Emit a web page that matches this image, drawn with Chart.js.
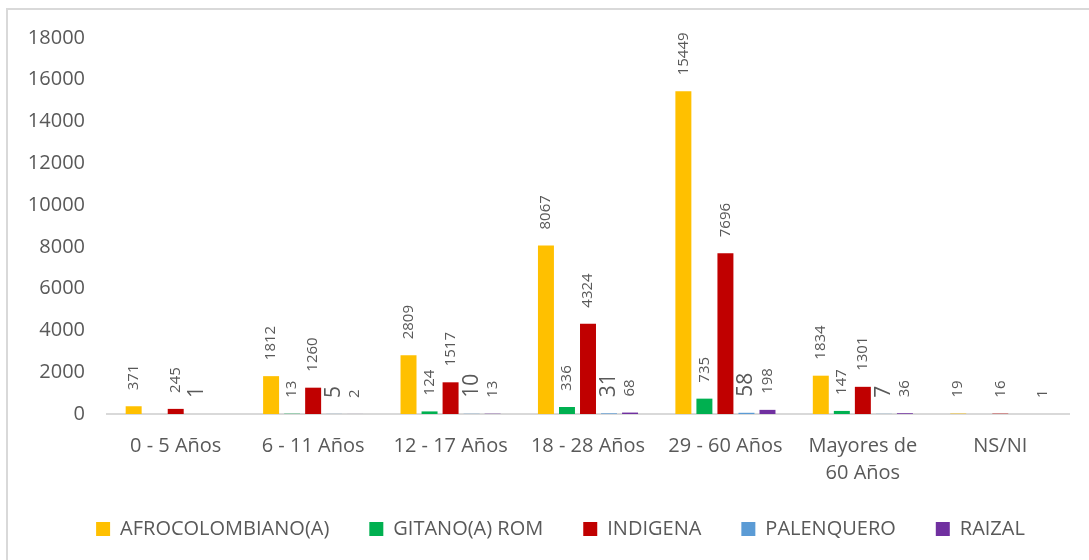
<!DOCTYPE html>
<html>
<head>
<meta charset="utf-8">
<script src="https://cdn.jsdelivr.net/npm/chart.js@4"></script>
<style>
  html, body { margin: 0; padding: 0; background: #fff; }
  #wrap { position: relative; width: 1089px; height: 560px; }
  #frame { position: absolute; left: 6px; top: 8px; width: 1090px; height: 560px;
           border-left: 2px solid #d9d9d9; border-top: 2px solid #d9d9d9; box-sizing: border-box; }
</style>
</head>
<body>
<div id="wrap">
  <div id="frame"></div>
  <canvas id="chart" width="1089" height="560"></canvas>
</div>
<script>
const categories = ['0 - 5 Años', '6 - 11 Años', '12 - 17 Años', '18 - 28 Años', '29 - 60 Años', ['Mayores de', '60 Años'], 'NS/NI'];

const afro = [371, 1812, 2809, 8067, 15449, 1834, 19];
const gitano = [null, 13, 124, 336, 735, 147, null];
const indigena = [245, 1260, 1517, 4324, 7696, 1301, 16];
const palenquero = [1, 5, 10, 31, 58, 7, null];
const raizal = [null, 2, 13, 68, 198, 36, 1];

const textColor = '#595959';
const fontFamily = "'Open Sans', sans-serif";

// rotated value labels above each bar
const barLabels = {
    id: 'barLabels',
    afterDatasetsDraw(chart) {
        const ctx = chart.ctx;
        chart.data.datasets.forEach((ds, i) => {
            const meta = chart.getDatasetMeta(i);
            meta.data.forEach((bar, j) => {
                const v = ds.data[j];
                if (v === null || v === undefined) return;
                ctx.save();
                ctx.translate(bar.x, bar.y - 16);
                ctx.rotate(-Math.PI / 2);
                ctx.font = (ds.labelSize || 15) + 'px ' + fontFamily;
                ctx.fillStyle = textColor;
                ctx.textAlign = 'left';
                ctx.textBaseline = 'middle';
                ctx.fillText(String(v), 0, 0);
                ctx.restore();
            });
        });
    }
};

// the legend sits a little right of centre and a bit higher in the original
const legendShift = {
    id: 'legendShift',
    afterLayout(chart) {
        chart.legend.left += 26;
        chart.legend.right += 26;
        chart.legend.top -= 9;
        chart.legend.bottom -= 9;
    }
};

const ctx = document.getElementById('chart').getContext('2d');
new Chart(ctx, {
    type: 'bar',
    data: {
        labels: categories,
        datasets: [
            { label: 'AFROCOLOMBIANO(A)', data: afro, backgroundColor: '#FFC000' },
            { label: 'GITANO(A) ROM', data: gitano, backgroundColor: '#00B050' },
            { label: 'INDIGENA', data: indigena, backgroundColor: '#C00000' },
            { label: 'PALENQUERO', data: palenquero, backgroundColor: '#5B9BD5', labelSize: 21 },
            { label: 'RAIZAL', data: raizal, backgroundColor: '#7030A0' }
        ]
    },
    options: {
        responsive: false,
        animation: false,
        layout: { padding: { left: 0, right: 20, top: 38, bottom: 2 } },
        datasets: { bar: { categoryPercentage: 0.765, barPercentage: 0.76 } },
        plugins: {
            legend: {
                position: 'bottom',
                labels: {
                    color: textColor,
                    font: { family: fontFamily, size: 20 },
                    boxWidth: 14,
                    boxHeight: 14,
                    padding: 40
                }
            },
            tooltip: { enabled: false }
        },
        scales: {
            x: {
                grid: { display: false },
                border: { color: '#d9d9d9', width: 2 },
                ticks: { color: textColor, font: { family: fontFamily, size: 20, lineHeight: 1.38 }, padding: 10, maxRotation: 0 },
                afterFit(scale) { scale.height = 74; }
            },
            y: {
                min: 0,
                max: 18000,
                grid: { display: false },
                border: { display: false },
                ticks: {
                    stepSize: 2000,
                    color: textColor,
                    font: { family: fontFamily, size: 20 },
                    padding: 14,
                    callback: (v) => String(v)
                },
                afterFit(scale) { scale.width = 107; }
            }
        }
    },
    plugins: [barLabels, legendShift]
});
</script>
</body>
</html>
